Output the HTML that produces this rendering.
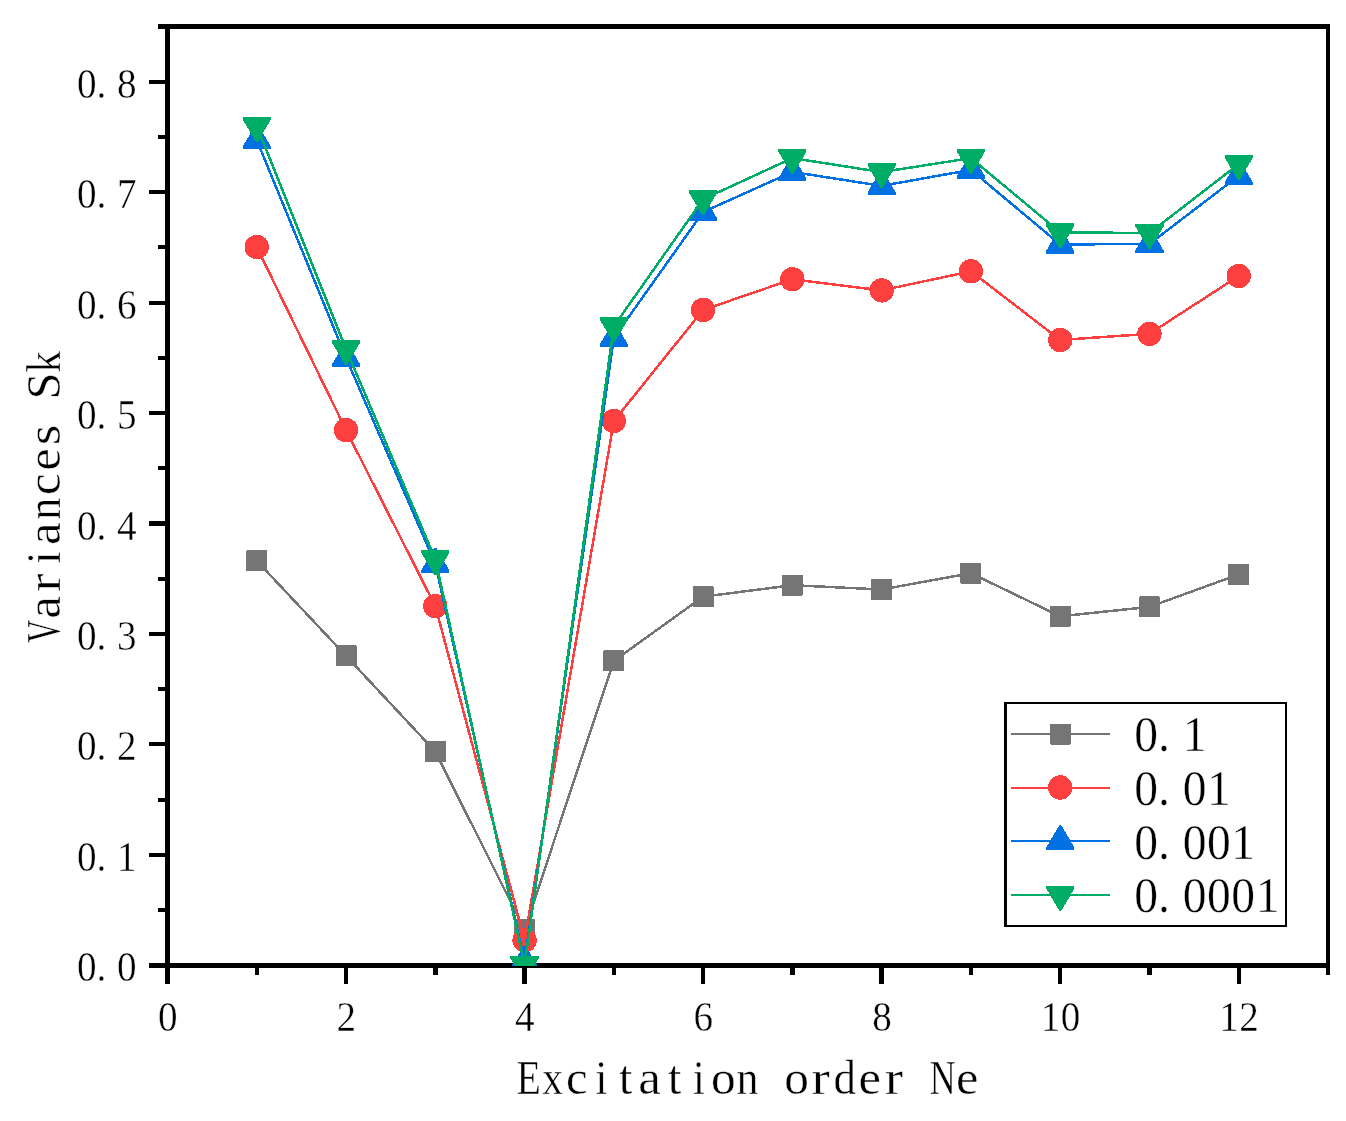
<!DOCTYPE html>
<html lang="en"><head><meta charset="utf-8"><title>Variances Sk vs Excitation order Ne</title>
<style>html,body{margin:0;padding:0;background:#fff;}body{width:1346px;height:1121px;overflow:hidden;}svg{display:block;will-change:transform;}text{font-family:"Liberation Serif",serif;fill:#000;stroke:#fff;stroke-width:0.4px;white-space:pre;}</style>
</head><body>
<svg width="1346" height="1121" viewBox="0 0 1346 1121">
<title>Variances Sk versus Excitation order Ne</title>
<desc>Line chart. X axis: Excitation order Ne, 0 to 13. Y axis: Variances Sk, 0.0 to 0.85. Four series labelled 0.1, 0.01, 0.001 and 0.0001.</desc>
<rect x="0" y="0" width="1346" height="1121" fill="#fff"/>
<defs><clipPath id="plotclip"><rect x="160" y="20" width="1175" height="946"/></clipPath></defs>
<g fill="#000" shape-rendering="crispEdges">
<rect x="165" y="24" width="5" height="944"/>
<rect x="165" y="963" width="1165" height="5"/>
<rect x="165" y="24" width="1165" height="5"/>
<rect x="1326" y="24" width="4" height="944"/>
<rect x="149" y="963" width="18" height="5"/>
<rect x="158" y="908" width="9" height="4"/>
<rect x="149" y="853" width="18" height="4"/>
<rect x="158" y="798" width="9" height="4"/>
<rect x="149" y="742" width="18" height="4"/>
<rect x="158" y="687" width="9" height="4"/>
<rect x="149" y="632" width="18" height="4"/>
<rect x="158" y="577" width="9" height="4"/>
<rect x="149" y="521" width="18" height="5"/>
<rect x="158" y="466" width="9" height="4"/>
<rect x="149" y="411" width="18" height="4"/>
<rect x="158" y="356" width="9" height="4"/>
<rect x="149" y="301" width="18" height="4"/>
<rect x="158" y="245" width="9" height="4"/>
<rect x="149" y="190" width="18" height="4"/>
<rect x="158" y="135" width="9" height="4"/>
<rect x="149" y="80" width="18" height="4"/>
<rect x="158" y="24" width="9" height="5"/>
<rect x="165" y="966" width="5" height="18"/>
<rect x="255" y="966" width="4" height="9"/>
<rect x="344" y="966" width="4" height="18"/>
<rect x="433" y="966" width="5" height="9"/>
<rect x="522" y="966" width="5" height="18"/>
<rect x="612" y="966" width="4" height="9"/>
<rect x="701" y="966" width="4" height="18"/>
<rect x="790" y="966" width="5" height="9"/>
<rect x="879" y="966" width="5" height="18"/>
<rect x="969" y="966" width="4" height="9"/>
<rect x="1058" y="966" width="4" height="18"/>
<rect x="1147" y="966" width="5" height="9"/>
<rect x="1237" y="966" width="4" height="18"/>
<rect x="1326" y="966" width="4" height="9"/>
</g>
<g clip-path="url(#plotclip)" shape-rendering="crispEdges">
<polyline fill="none" stroke="#757575" stroke-width="2.5" stroke-linejoin="round" points="256.77,560.8 346.04,655.9 435.31,751.5 524.58,929.6 613.85,660.9 703.12,596.7 792.39,585.2 881.66,589.5 970.93,573.2 1060.2,616.3 1149.47,606.9 1238.74,574.4"/>
<g fill="#757575">
<rect x="246.27" y="550.3" width="21" height="21" rx="1"/>
<rect x="335.54" y="645.4" width="21" height="21" rx="1"/>
<rect x="424.81" y="741" width="21" height="21" rx="1"/>
<rect x="514.08" y="919.1" width="21" height="21" rx="1"/>
<rect x="603.35" y="650.4" width="21" height="21" rx="1"/>
<rect x="692.62" y="586.2" width="21" height="21" rx="1"/>
<rect x="781.89" y="574.7" width="21" height="21" rx="1"/>
<rect x="871.16" y="579" width="21" height="21" rx="1"/>
<rect x="960.43" y="562.7" width="21" height="21" rx="1"/>
<rect x="1049.7" y="605.8" width="21" height="21" rx="1"/>
<rect x="1138.97" y="596.4" width="21" height="21" rx="1"/>
<rect x="1228.24" y="563.9" width="21" height="21" rx="1"/>
</g>
<polyline fill="none" stroke="#fe3f3f" stroke-width="2.5" stroke-linejoin="round" points="256.77,247 346.04,430.1 435.31,606.1 524.58,940.3 613.85,421 703.12,309.9 792.39,279.3 881.66,290.4 970.93,271.3 1060.2,340 1149.47,333.8 1238.74,276"/>
<g fill="#fe3f3f">
<circle cx="256.77" cy="247" r="12.2"/>
<circle cx="346.04" cy="430.1" r="12.2"/>
<circle cx="435.31" cy="606.1" r="12.2"/>
<circle cx="524.58" cy="940.3" r="12.2"/>
<circle cx="613.85" cy="421" r="12.2"/>
<circle cx="703.12" cy="309.9" r="12.2"/>
<circle cx="792.39" cy="279.3" r="12.2"/>
<circle cx="881.66" cy="290.4" r="12.2"/>
<circle cx="970.93" cy="271.3" r="12.2"/>
<circle cx="1060.2" cy="340" r="12.2"/>
<circle cx="1149.47" cy="333.8" r="12.2"/>
<circle cx="1238.74" cy="276" r="12.2"/>
</g>
<polyline fill="none" stroke="#0070e3" stroke-width="2.5" stroke-linejoin="round" points="256.77,140 346.04,357.8 435.31,563.8 524.58,961.4 613.85,337.9 703.12,212 792.39,171.9 881.66,185.9 970.93,169.85 1060.2,244.5 1149.47,243.9 1238.74,175.8"/>
<g fill="#0070e3">
<polygon points="242.67,149 242.67,146.5 255.77,124.2 257.77,124.2 270.87,146.5 270.87,149"/>
<polygon points="331.94,366.8 331.94,364.3 345.04,342 347.04,342 360.14,364.3 360.14,366.8"/>
<polygon points="421.21,572.8 421.21,570.3 434.31,548 436.31,548 449.41,570.3 449.41,572.8"/>
<polygon points="510.48,970.4 510.48,967.9 523.58,945.6 525.58,945.6 538.68,967.9 538.68,970.4"/>
<polygon points="599.75,346.9 599.75,344.4 612.85,322.1 614.85,322.1 627.95,344.4 627.95,346.9"/>
<polygon points="689.02,221 689.02,218.5 702.12,196.2 704.12,196.2 717.22,218.5 717.22,221"/>
<polygon points="778.29,180.9 778.29,178.4 791.39,156.1 793.39,156.1 806.49,178.4 806.49,180.9"/>
<polygon points="867.56,194.9 867.56,192.4 880.66,170.1 882.66,170.1 895.76,192.4 895.76,194.9"/>
<polygon points="956.83,178.85 956.83,176.35 969.93,154.05 971.93,154.05 985.03,176.35 985.03,178.85"/>
<polygon points="1046.1,253.5 1046.1,251 1059.2,228.7 1061.2,228.7 1074.3,251 1074.3,253.5"/>
<polygon points="1135.37,252.9 1135.37,250.4 1148.47,228.1 1150.47,228.1 1163.57,250.4 1163.57,252.9"/>
<polygon points="1224.64,184.8 1224.64,182.3 1237.74,160 1239.74,160 1252.84,182.3 1252.84,184.8"/>
</g>
<polyline fill="none" stroke="#00ad67" stroke-width="2.5" stroke-linejoin="round" points="256.77,126 346.04,349.1 435.31,559.1 524.58,965 613.85,326.2 703.12,199.2 792.39,158.1 881.66,172.1 970.93,158.1 1060.2,232.4 1149.47,233 1238.74,164.1"/>
<g fill="#00ad67">
<polygon points="242.67,117 242.67,119.5 255.77,141.8 257.77,141.8 270.87,119.5 270.87,117"/>
<polygon points="331.94,340.1 331.94,342.6 345.04,364.9 347.04,364.9 360.14,342.6 360.14,340.1"/>
<polygon points="421.21,550.1 421.21,552.6 434.31,574.9 436.31,574.9 449.41,552.6 449.41,550.1"/>
<polygon points="510.48,956 510.48,958.5 523.58,980.8 525.58,980.8 538.68,958.5 538.68,956"/>
<polygon points="599.75,317.2 599.75,319.7 612.85,342 614.85,342 627.95,319.7 627.95,317.2"/>
<polygon points="689.02,190.2 689.02,192.7 702.12,215 704.12,215 717.22,192.7 717.22,190.2"/>
<polygon points="778.29,149.1 778.29,151.6 791.39,173.9 793.39,173.9 806.49,151.6 806.49,149.1"/>
<polygon points="867.56,163.1 867.56,165.6 880.66,187.9 882.66,187.9 895.76,165.6 895.76,163.1"/>
<polygon points="956.83,149.1 956.83,151.6 969.93,173.9 971.93,173.9 985.03,151.6 985.03,149.1"/>
<polygon points="1046.1,223.4 1046.1,225.9 1059.2,248.2 1061.2,248.2 1074.3,225.9 1074.3,223.4"/>
<polygon points="1135.37,224 1135.37,226.5 1148.47,248.8 1150.47,248.8 1163.57,226.5 1163.57,224"/>
<polygon points="1224.64,155.1 1224.64,157.6 1237.74,179.9 1239.74,179.9 1252.84,157.6 1252.84,155.1"/>
</g>
</g>
<text transform="scale(0.9434,1)" x="81.69 102.43 124.09" y="981.3" font-size="41.5">0.0</text>
<text transform="scale(0.9434,1)" x="81.69 102.43 124.09" y="870.86" font-size="41.5">0.1</text>
<text transform="scale(0.9434,1)" x="81.69 102.43 124.09" y="760.42" font-size="41.5">0.2</text>
<text transform="scale(0.9434,1)" x="81.69 102.43 124.09" y="649.98" font-size="41.5">0.3</text>
<text transform="scale(0.9434,1)" x="81.69 102.43 124.09" y="539.54" font-size="41.5">0.4</text>
<text transform="scale(0.9434,1)" x="81.69 102.43 124.09" y="429.1" font-size="41.5">0.5</text>
<text transform="scale(0.9434,1)" x="81.69 102.43 124.09" y="318.66" font-size="41.5">0.6</text>
<text transform="scale(0.9434,1)" x="81.69 102.43 124.09" y="208.22" font-size="41.5">0.7</text>
<text transform="scale(0.9434,1)" x="81.69 102.43 124.09" y="97.78" font-size="41.5">0.8</text>
<text transform="scale(0.9434,1)" x="167.49" y="1031" font-size="41.5">0</text>
<text transform="scale(0.9434,1)" x="356.75" y="1031" font-size="41.5">2</text>
<text transform="scale(0.9434,1)" x="546" y="1031" font-size="41.5">4</text>
<text transform="scale(0.9434,1)" x="735.25" y="1031" font-size="41.5">6</text>
<text transform="scale(0.9434,1)" x="924.5" y="1031" font-size="41.5">8</text>
<text transform="scale(0.9434,1)" x="1103.15 1124.35" y="1031" font-size="41.5">10</text>
<text transform="scale(0.9434,1)" x="1292.41 1313.61" y="1031" font-size="41.5">12</text>
<text y="1093.7" font-size="49" ><tspan x="516.4" textLength="24.34" lengthAdjust="spacingAndGlyphs">E</tspan><tspan x="542.21" textLength="20.8" lengthAdjust="spacingAndGlyphs">x</tspan><tspan x="565.99" textLength="21.58" lengthAdjust="spacingAndGlyphs">c</tspan><tspan x="595.2" textLength="12.21" lengthAdjust="spacingAndGlyphs">i</tspan><tspan x="618.84" textLength="13.62" lengthAdjust="spacingAndGlyphs">t</tspan><tspan x="638.3" textLength="22.63" lengthAdjust="spacingAndGlyphs">a</tspan><tspan x="667.64" textLength="13.62" lengthAdjust="spacingAndGlyphs">t</tspan><tspan x="692.8" textLength="12.21" lengthAdjust="spacingAndGlyphs">i</tspan><tspan x="711.03" textLength="24.64" lengthAdjust="spacingAndGlyphs">o</tspan><tspan x="736.58" textLength="21.99" lengthAdjust="spacingAndGlyphs">n</tspan> <tspan x="784.23" textLength="24.64" lengthAdjust="spacingAndGlyphs">o</tspan><tspan x="811.51" textLength="18.28" lengthAdjust="spacingAndGlyphs">r</tspan><tspan x="833.57" textLength="22.47" lengthAdjust="spacingAndGlyphs">d</tspan><tspan x="858.42" textLength="22.45" lengthAdjust="spacingAndGlyphs">e</tspan><tspan x="884.71" textLength="18.28" lengthAdjust="spacingAndGlyphs">r</tspan> <tspan x="929.85" textLength="25.98" lengthAdjust="spacingAndGlyphs">N</tspan><tspan x="956.02" textLength="22.45" lengthAdjust="spacingAndGlyphs">e</tspan></text>
<g transform="translate(60.3,643.6) rotate(-90)"><text y="0" font-size="49" ><tspan x="0.87" textLength="22.81" lengthAdjust="spacingAndGlyphs">V</tspan><tspan x="24.98" textLength="22.63" lengthAdjust="spacingAndGlyphs">a</tspan><tspan x="51.94" textLength="18.28" lengthAdjust="spacingAndGlyphs">r</tspan><tspan x="79.78" textLength="12.21" lengthAdjust="spacingAndGlyphs">i</tspan><tspan x="98.63" textLength="22.63" lengthAdjust="spacingAndGlyphs">a</tspan><tspan x="123.86" textLength="21.99" lengthAdjust="spacingAndGlyphs">n</tspan><tspan x="148.62" textLength="21.58" lengthAdjust="spacingAndGlyphs">c</tspan><tspan x="172.8" textLength="22.45" lengthAdjust="spacingAndGlyphs">e</tspan><tspan x="198.25" textLength="20.59" lengthAdjust="spacingAndGlyphs">s</tspan> <tspan x="244.17" textLength="26.96" lengthAdjust="spacingAndGlyphs">S</tspan><tspan x="271.16" textLength="21.52" lengthAdjust="spacingAndGlyphs">k</tspan></text></g>
<g fill="#000" shape-rendering="crispEdges"><rect x="1004" y="702" width="283" height="225" fill="#fff"/><rect x="1004" y="702" width="3" height="225"/><rect x="1004" y="702" width="283" height="2"/><rect x="1285" y="702" width="2" height="225"/><rect x="1004" y="925" width="283" height="2"/></g>
<g shape-rendering="crispEdges" fill="#757575"><rect x="1011" y="733" width="99" height="2"/><rect x="1049.8" y="723.5" width="21" height="21" rx="1"/></g>
<text transform="scale(0.9438,1)" x="1201.72 1226.92 1253.22" y="751" font-size="50.4">0.1</text>
<g shape-rendering="crispEdges" fill="#fe3f3f"><rect x="1011" y="787" width="99" height="2"/><circle cx="1060.3" cy="787.5" r="12.2"/></g>
<text transform="scale(0.9438,1)" x="1201.72 1226.92 1253.22 1278.96" y="805" font-size="50.4">0.01</text>
<g shape-rendering="crispEdges" fill="#0070e3"><rect x="1011" y="840" width="99" height="2"/><polygon points="1046.2,850 1046.2,847.5 1059.3,825.2 1061.3,825.2 1074.4,847.5 1074.4,850"/></g>
<text transform="scale(0.9438,1)" x="1201.72 1226.92 1253.22 1278.96 1304.71" y="858.6" font-size="50.4">0.001</text>
<g shape-rendering="crispEdges" fill="#00ad67"><rect x="1011" y="894" width="99" height="2"/><polygon points="1046.2,886 1046.2,888.5 1059.3,910.8 1061.3,910.8 1074.4,888.5 1074.4,886"/></g>
<text transform="scale(0.9438,1)" x="1201.72 1226.92 1253.22 1278.96 1304.71 1330.46" y="912" font-size="50.4">0.0001</text>
</svg></body></html>
